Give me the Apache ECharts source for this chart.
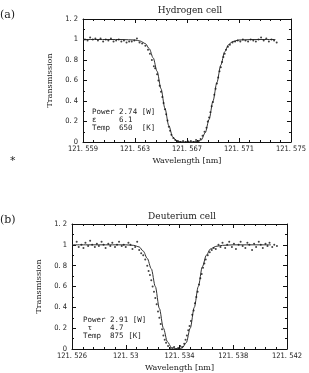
<!DOCTYPE html>
<html><head><meta charset="utf-8">
<script src="https://cdn.jsdelivr.net/npm/echarts@6/dist/echarts.min.js"></script>
<style>html,body{margin:0;padding:0;background:#fff}#c{width:309px;height:373px}</style>
</head><body><div id="c"></div>
<script>
// Wavelength offsets in pm from the axis start (a: 121.559 nm, b: 121.526 nm)
var xTicksA = ['121. 559','121. 563','121. 567','121. 571','121. 575'];
var xTicksB = ['121. 526','121. 53','121. 534','121. 538','121. 542'];
var yTicks = ['0','0. 2','0. 4','0. 6','0. 8','1','1. 2'];

var fitAx = [0,1,2,3,4,4.4,4.8,5.1,5.4,5.7,6.0,6.3,6.6,6.9,7.2,7.6,8.0,8.4,8.8,9.1,9.4,9.7,10.0,10.3,10.6,10.9,11.2,11.5,12.0,13,14,14.8];
var fitAy = [1,1,1,1,0.995,0.985,0.96,0.91,0.82,0.69,0.52,0.33,0.16,0.05,0.01,0,0,0,0.005,0.02,0.09,0.22,0.40,0.58,0.75,0.88,0.95,0.98,0.995,1,1,1];

var ptsAx = [0.15,0.35,0.55,0.75,0.95,1.15,1.35,1.55,1.75,1.95,2.15,2.35,2.55,2.75,2.95,3.15,3.35,3.55,3.75,3.95,4.15,4.35,4.55,4.8,5.0,5.15,5.3,5.45,5.55,5.7,5.8,5.9,6.0,6.1,6.2,6.3,6.4,6.5,6.6,6.7,6.8,6.95,7.1,7.3,7.5,7.7,7.9,8.1,8.3,8.5,8.7,8.9,9.05,9.2,9.35,9.5,9.6,9.7,9.8,9.9,10.0,10.1,10.2,10.3,10.4,10.5,10.6,10.7,10.8,10.9,11.0,11.15,11.3,11.5,11.7,11.9,12.1,12.3,12.5,12.7,12.9,13.1,13.3,13.5,13.7,13.9,14.1,14.3,14.5,14.7,14.9];
var ptsAy = [1.0,0.99,1.02,1.0,1.01,0.99,1.01,0.98,1.0,0.99,1.01,0.98,0.99,1.0,0.98,0.99,0.97,0.98,0.98,0.99,1.01,0.97,0.96,0.94,0.9,0.86,0.8,0.74,0.72,0.66,0.6,0.55,0.49,0.44,0.38,0.32,0.27,0.21,0.15,0.11,0.07,0.04,0.02,0.01,0.0,0.01,0.0,0.005,0.01,0.0,0.02,0.01,0.03,0.06,0.1,0.14,0.2,0.24,0.29,0.35,0.39,0.46,0.52,0.57,0.63,0.69,0.73,0.78,0.83,0.86,0.9,0.93,0.95,0.97,0.98,0.99,0.98,1.0,0.99,0.98,1.0,0.99,0.98,1.0,1.02,0.99,1.01,0.98,1.0,0.99,0.97];

var fitBx = [0,1,2,3,4,4.6,5.0,5.3,5.6,5.9,6.2,6.5,6.8,7.1,7.4,7.8,8.2,8.5,8.8,9.1,9.4,9.7,10.0,10.3,10.7,11.2,12,13,14,14.8];
var fitBy = [1,1,1,1,1,0.995,0.98,0.94,0.87,0.77,0.6,0.39,0.2,0.07,0.015,0,0.01,0.06,0.2,0.4,0.6,0.79,0.9,0.96,0.985,0.995,1,1,1,1];

var ptsBx = [0.35,0.5,0.7,0.85,1.0,1.2,1.35,1.5,1.7,1.85,2.0,2.2,2.35,2.5,2.7,2.85,3.0,3.2,3.35,3.5,3.7,3.85,4.0,4.2,4.35,4.5,4.7,4.85,5.0,5.15,5.3,5.45,5.6,5.7,5.8,5.9,6.0,6.1,6.2,6.3,6.4,6.5,6.6,6.7,6.8,6.9,7.0,7.15,7.3,7.45,7.6,7.75,7.9,8.05,8.2,8.35,8.45,8.55,8.65,8.75,8.85,8.95,9.05,9.15,9.25,9.35,9.45,9.55,9.65,9.75,9.85,9.95,10.1,10.25,10.4,10.55,10.7,10.9,11.05,11.2,11.4,11.55,11.7,11.9,12.05,12.2,12.4,12.55,12.7,12.9,13.05,13.2,13.4,13.55,13.7,13.9,14.05,14.2,14.4,14.55,14.7,14.9,15.05,15.25];
var ptsBy = [1.03,0.98,1.0,0.97,1.02,0.99,1.04,1.0,0.98,1.01,0.99,1.03,1.0,0.97,1.01,0.99,1.02,0.98,1.0,1.03,0.99,1.0,0.98,1.02,1.0,0.96,0.98,1.03,0.95,0.92,0.9,0.86,0.8,0.75,0.71,0.66,0.6,0.55,0.49,0.43,0.36,0.3,0.24,0.19,0.13,0.09,0.06,0.03,0.01,0.0,0.02,0.0,0.01,0.03,0.02,0.05,0.09,0.13,0.18,0.22,0.27,0.33,0.37,0.44,0.5,0.55,0.62,0.68,0.72,0.78,0.82,0.86,0.9,0.93,0.95,0.97,0.96,1.0,0.98,1.02,0.97,1.0,1.03,0.98,1.01,0.96,1.0,1.03,0.99,0.97,1.02,1.0,0.95,1.01,0.98,1.03,1.0,0.97,1.01,0.99,1.02,0.98,1.0,0.99];

function zip(xs, ys){ return xs.map(function(x,i){ return [x, ys[i]]; }); }

var lbl = {fontFamily:'DejaVu Sans Condensed', fontSize:7.5, color:'#222'};
var axLine = {onZero:false, lineStyle:{color:'#111', width:1}};
var tick = {inside:true, length:4, lineStyle:{color:'#111'}};
var mtick = {show:true, splitNumber:5, length:2, lineStyle:{color:'#111'}};
var mtickY = {show:true, splitNumber:2, length:2, lineStyle:{color:'#111'}};
function xBottom(gi, ticks){
  return {type:'value', gridIndex:gi, min:0, max:16, interval:4, position:'bottom',
    axisLine:axLine, axisTick:tick, minorTick:mtick, splitLine:{show:false},
    axisLabel:Object.assign({margin:3, formatter:function(v){ return ticks[Math.round(v/4)]; }}, lbl),
    name:'Wavelength [nm]', nameLocation:'middle', nameGap:15,
    nameTextStyle:{fontFamily:'DejaVu Serif', fontSize:8, color:'#222'}};
}
function xTop(gi){
  return {type:'value', gridIndex:gi, min:0, max:16, interval:4, position:'top',
    axisLine:axLine, axisTick:tick, minorTick:mtick, splitLine:{show:false}, axisLabel:{show:false}};
}
function yLeft(gi, gap){
  return {type:'value', gridIndex:gi, min:0, max:1.2, interval:0.2, position:'left',
    axisLine:axLine, axisTick:tick, minorTick:mtickY, splitLine:{show:false},
    axisLabel:Object.assign({margin:5, formatter:function(v){ return yTicks[Math.round(v*5)]; }}, lbl),
    name:'Transmission', nameLocation:'middle', nameGap:gap, nameRotate:90,
    nameTextStyle:{fontFamily:'DejaVu Serif', fontSize:8, color:'#222'}};
}
function yRight(gi){
  return {type:'value', gridIndex:gi, min:0, max:1.2, interval:0.2, position:'right',
    axisLine:axLine, axisTick:tick, minorTick:mtickY, splitLine:{show:false}, axisLabel:{show:false}};
}
function pts(xi, yi, d){
  return {type:'scatter', xAxisIndex:xi, yAxisIndex:yi, data:d, symbolSize:2,
    itemStyle:{color:'#111'}, silent:true, z:3};
}
function fit(xi, yi, d){
  return {type:'line', xAxisIndex:xi, yAxisIndex:yi, data:d, smooth:0.3, smoothMonotone:'x', showSymbol:false,
    lineStyle:{color:'#333', width:1}, silent:true, z:2};
}
var mono = 'DejaVu Sans Mono';
var chart = echarts.init(document.getElementById('c'));
chart.setOption({
  animation:false,
  backgroundColor:'#fff',
  grid:[{left:83, top:19, width:214, height:123}, {left:72, top:224, width:215, height:126}],
  xAxis:[xBottom(0, xTicksA), xTop(0), xBottom(1, xTicksB), xTop(1)],
  yAxis:[yLeft(0, 25), yRight(0), yLeft(1, 24), yRight(1)],
  series:[fit(0,0,zip(fitAx,fitAy)), pts(0,0,zip(ptsAx,ptsAy)), fit(2,2,zip(fitBx,fitBy)), pts(2,2,zip(ptsBx,ptsBy))],
  graphic:[
    {type:'text', x:190, y:6, style:{text:'Hydrogen cell', fontFamily:'DejaVu Serif', fontSize:9, fill:'#222', textAlign:'center'}},
    {type:'text', x:182, y:212, style:{text:'Deuterium cell', fontFamily:'DejaVu Serif', fontSize:9, fill:'#222', textAlign:'center'}},
    {type:'text', x:0, y:10, style:{text:'(a)', fontFamily:'DejaVu Serif', fontSize:11, fill:'#222'}},
    {type:'text', x:0, y:215, style:{text:'(b)', fontFamily:'DejaVu Serif', fontSize:11, fill:'#222'}},
    {type:'text', x:10, y:156, style:{text:'*', fontFamily:'DejaVu Sans', fontSize:11, fill:'#222'}},
    {type:'text', x:92, y:108, style:{text:'Power 2.74 [W]\nε     6.1\nTemp  650  [K]', fontFamily:mono, fontSize:7.5, lineHeight:8, fill:'#222'}},
    {type:'text', x:83, y:316, style:{text:'Power 2.91 [W]\n τ    4.7\nTemp  875 [K]', fontFamily:mono, fontSize:7.5, lineHeight:8, fill:'#222'}}
  ]
});
</script></body></html>
